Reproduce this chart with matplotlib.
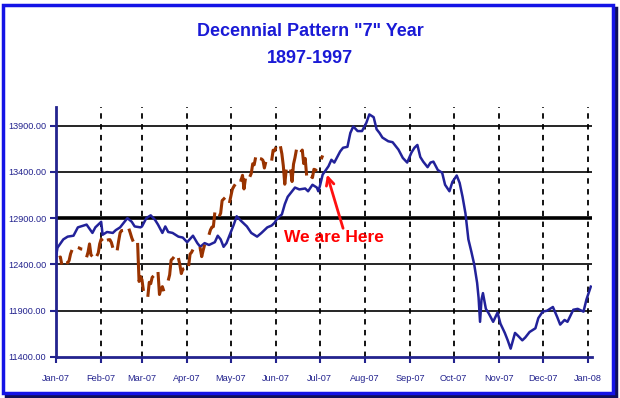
import matplotlib
matplotlib.use("Agg")
import matplotlib.pyplot as plt
import matplotlib.dates as mdates
from matplotlib import font_manager
import pandas as pd
import numpy as np
from matplotlib.patches import Rectangle

# ---------------- data ----------------
pattern_dates = [
    "2007-01-01", "2007-01-02", "2007-01-06", "2007-01-09", "2007-01-13", "2007-01-16", "2007-01-20",
    "2007-01-22", "2007-01-26", "2007-01-28", "2007-02-01", "2007-02-02", "2007-02-05", "2007-02-09",
    "2007-02-11", "2007-02-14", "2007-02-17", "2007-02-19", "2007-02-22", "2007-02-24", "2007-02-28",
    "2007-03-01", "2007-03-04", "2007-03-07", "2007-03-10", "2007-03-12", "2007-03-15", "2007-03-17",
    "2007-03-19", "2007-03-22", "2007-03-26", "2007-03-29", "2007-04-01", "2007-04-05", "2007-04-08",
    "2007-04-10", "2007-04-13", "2007-04-16", "2007-04-20", "2007-04-22", "2007-04-24", "2007-04-26",
    "2007-04-28", "2007-05-01", "2007-05-03", "2007-05-05", "2007-05-08", "2007-05-12", "2007-05-15",
    "2007-05-19", "2007-05-22", "2007-05-26", "2007-05-29", "2007-05-31", "2007-06-02", "2007-06-05",
    "2007-06-07", "2007-06-09", "2007-06-12", "2007-06-14", "2007-06-17", "2007-06-21", "2007-06-23",
    "2007-06-26", "2007-06-29", "2007-06-30", "2007-07-01", "2007-07-03", "2007-07-07", "2007-07-09",
    "2007-07-11", "2007-07-15", "2007-07-17", "2007-07-20", "2007-07-22", "2007-07-24", "2007-07-27",
    "2007-07-30", "2007-08-02", "2007-08-04", "2007-08-07", "2007-08-09", "2007-08-11", "2007-08-13",
    "2007-08-17", "2007-08-20", "2007-08-24", "2007-08-27", "2007-08-30", "2007-09-02", "2007-09-04",
    "2007-09-06", "2007-09-08", "2007-09-10", "2007-09-13", "2007-09-15", "2007-09-17", "2007-09-20",
    "2007-09-23", "2007-09-25", "2007-09-28", "2007-09-30", "2007-10-03", "2007-10-05", "2007-10-07",
    "2007-10-09", "2007-10-11", "2007-10-13", "2007-10-15", "2007-10-17", "2007-10-18", "2007-10-19",
    "2007-10-20", "2007-10-21", "2007-10-23", "2007-10-25", "2007-10-28", "2007-10-31", "2007-11-02",
    "2007-11-05", "2007-11-07", "2007-11-09", "2007-11-12", "2007-11-14", "2007-11-17", "2007-11-19",
    "2007-11-22", "2007-11-26", "2007-11-28", "2007-12-01", "2007-12-04", "2007-12-08", "2007-12-11",
    "2007-12-13", "2007-12-16", "2007-12-18", "2007-12-22", "2007-12-25", "2007-12-29", "2007-12-31",
    "2008-01-03",
]
pattern_values = [
    12480, 12580, 12670, 12700, 12710, 12800, 12820,
    12830, 12740, 12800, 12860, 12720, 12750, 12740,
    12770, 12800, 12860, 12900, 12860, 12810, 12800,
    12810, 12900, 12930, 12880, 12830, 12740, 12810,
    12750, 12740, 12700, 12690, 12640, 12710, 12630,
    12590, 12630, 12610, 12640, 12710, 12670, 12590,
    12630, 12750, 12830, 12920, 12870, 12810, 12740,
    12700, 12740, 12800, 12820, 12850, 12900, 12940,
    13050, 13130, 13190, 13230, 13210, 13220, 13190,
    13260, 13230, 13190, 13240, 13370, 13460, 13530,
    13500, 13620, 13660, 13670, 13820, 13890, 13840,
    13840, 13930, 14020, 13990, 13860, 13820, 13770,
    13730, 13720, 13640, 13550, 13500, 13610, 13660,
    13690, 13560, 13510, 13450, 13500, 13510, 13420,
    13390, 13260, 13190, 13290, 13360, 13280, 13130,
    12950, 12670, 12540, 12400, 12200, 12040, 11780,
    12020, 12090, 11920, 11870, 11780, 11880, 11760,
    11660, 11580, 11490, 11660, 11630, 11580, 11610,
    11670, 11710, 11820, 11890, 11900, 11940, 11830,
    11750, 11800, 11780, 11910, 11920, 11890, 12020,
    12160,
]

actual_dates = [
    "2007-01-03", "2007-01-04", "2007-01-05", "2007-01-08", "2007-01-09", "2007-01-10", "2007-01-11",
    "2007-01-12", "2007-01-16", "2007-01-17", "2007-01-18", "2007-01-19", "2007-01-22", "2007-01-23",
    "2007-01-24", "2007-01-25", "2007-01-26", "2007-01-29", "2007-01-30", "2007-01-31", "2007-02-01",
    "2007-02-02", "2007-02-05", "2007-02-06", "2007-02-07", "2007-02-08", "2007-02-09", "2007-02-12",
    "2007-02-13", "2007-02-14", "2007-02-15", "2007-02-16", "2007-02-20", "2007-02-21", "2007-02-22",
    "2007-02-23", "2007-02-26", "2007-02-27", "2007-02-28", "2007-03-01", "2007-03-02", "2007-03-05",
    "2007-03-06", "2007-03-07", "2007-03-08", "2007-03-09", "2007-03-12", "2007-03-13", "2007-03-14",
    "2007-03-15", "2007-03-16", "2007-03-19", "2007-03-20", "2007-03-21", "2007-03-22", "2007-03-23",
    "2007-03-26", "2007-03-27", "2007-03-28", "2007-03-29", "2007-03-30", "2007-04-02", "2007-04-03",
    "2007-04-04", "2007-04-05", "2007-04-09", "2007-04-10", "2007-04-11", "2007-04-12", "2007-04-13",
    "2007-04-16", "2007-04-17", "2007-04-18", "2007-04-19", "2007-04-20", "2007-04-23", "2007-04-24",
    "2007-04-25", "2007-04-26", "2007-04-27", "2007-04-30", "2007-05-01", "2007-05-02", "2007-05-03",
    "2007-05-04", "2007-05-07", "2007-05-08", "2007-05-09", "2007-05-10", "2007-05-11", "2007-05-14",
    "2007-05-15", "2007-05-16", "2007-05-17", "2007-05-18", "2007-05-21", "2007-05-22", "2007-05-23",
    "2007-05-24", "2007-05-25", "2007-05-29", "2007-05-30", "2007-05-31", "2007-06-01", "2007-06-04",
    "2007-06-05", "2007-06-06", "2007-06-07", "2007-06-08", "2007-06-11", "2007-06-12", "2007-06-13",
    "2007-06-14", "2007-06-15", "2007-06-18", "2007-06-19", "2007-06-20", "2007-06-21", "2007-06-22",
    "2007-06-25", "2007-06-26", "2007-06-27", "2007-06-28", "2007-06-29", "2007-07-02", "2007-07-03",
]
actual_values = [
    12474, 12480, 12398, 12423, 12416, 12442, 12514,
    12556, 12582, 12577, 12567, 12565, 12477, 12533,
    12621, 12502, 12487, 12490, 12523, 12622, 12673,
    12653, 12661, 12666, 12667, 12637, 12580, 12552,
    12654, 12741, 12765, 12767, 12786, 12738, 12686,
    12647, 12632, 12216, 12268, 12234, 12114, 12050,
    12207, 12192, 12260, 12276, 12318, 12075, 12133,
    12160, 12110, 12226, 12288, 12447, 12461, 12481,
    12469, 12397, 12301, 12349, 12354, 12382, 12511,
    12530, 12560, 12569, 12573, 12484, 12553, 12612,
    12720, 12773, 12803, 12808, 12961, 12919, 12953,
    13089, 13105, 13121, 13063, 13136, 13211, 13241,
    13265, 13313, 13309, 13362, 13215, 13327, 13346,
    13383, 13487, 13476, 13556, 13542, 13539, 13525,
    13441, 13507, 13521, 13633, 13627, 13668, 13676,
    13595, 13465, 13266, 13424, 13425, 13295, 13483,
    13553, 13639, 13612, 13635, 13489, 13545, 13360,
    13352, 13337, 13427, 13422, 13408, 13535, 13577,
]

y_tick_values = [11400, 11900, 12400, 12900, 13400, 13900]
title_text = 'Decennial Pattern "7" Year\n1897-1997'
note_text = "We are Here"

# ---------------- styling ----------------
W, H = 620, 398
available = {f.name for f in font_manager.fontManager.ttflist}
NARROW = [f for f in ["Liberation Sans Narrow", "DejaVu Sans Condensed", "Liberation Sans"] if f in available]
narrow_ok = NARROW[0] != "Liberation Sans"
navy = "#23238e"
blue_line = "#22229a"
brown_line = "#993300"

fig = plt.figure(figsize=(W / 100, H / 100), dpi=100)
fig.patch.set_facecolor("white")

def px_rect(x0, y0, x1, y1, **kw):
    return Rectangle((x0 / W, 1 - y1 / H), (x1 - x0) / W, (y1 - y0) / H,
                     transform=fig.transFigure, **kw)

# shadow + frame
fig.patches.append(px_rect(6, 8, 616, 396, facecolor="none", edgecolor="#10105a", lw=2.5, zorder=-2))
fig.patches.append(px_rect(3, 5, 613, 393, facecolor="white", edgecolor="#1414e6", lw=2.5, zorder=-1))

ax = fig.add_axes([56 / W, 1 - 357 / H, 536 / W, 250 / H])
ax.set_zorder(2)
ax.set_facecolor("none")

pd_pattern = pd.to_datetime(pattern_dates)
pd_actual = pd.to_datetime(actual_dates)

# break the actual line where trading days are not consecutive
xs, ys = [], []
prev = None
for d, v in zip(pd_actual, actual_values):
    if prev is not None and (d - prev).days > 1:
        xs.append(prev + pd.Timedelta(hours=12))
        ys.append(np.nan)
    xs.append(d)
    ys.append(v)
    prev = d

x0 = pd.Timestamp("2007-01-01")
x1 = pd.Timestamp("2008-01-03 20:00")
ax.set_xlim(x0, x1)
ax.set_ylim(11400, 14100)

# grid
for yv in y_tick_values[1:]:
    ax.axhline(yv, color="black", lw=2.6 if yv == 12900 else 1.2, zorder=1)
months = pd.date_range("2007-02-01", "2008-01-01", freq="MS")
for m in months:
    ax.axvline(m, color="black", lw=1.3, ls=(0, (3, 3)), zorder=1)

ax.plot(pd_pattern, pattern_values, color=blue_line, lw=1.8, zorder=3)
ax.plot(xs, ys, color=brown_line, lw=2.2, zorder=4, solid_capstyle="butt")

# axes styling
for s in ("top", "right"):
    ax.spines[s].set_visible(False)
for s in ("left", "bottom"):
    ax.spines[s].set_color(navy)
    ax.spines[s].set_linewidth(2.0)

lab_size = 7.5 if narrow_ok else 6.6
ax.set_yticks(y_tick_values)
ax.set_yticklabels([f"{v:.2f}" for v in y_tick_values])
ax.set_xticks(pd.date_range("2007-01-01", "2008-01-01", freq="MS"))
ax.xaxis.set_major_formatter(mdates.DateFormatter("%b-%y"))
ax.tick_params(axis="both", colors=navy, direction="out", length=4, width=1.5)
ax.tick_params(axis="y", pad=3, labelsize=lab_size)
ax.tick_params(axis="x", pad=8, labelsize=lab_size)
for lab in ax.get_xticklabels() + ax.get_yticklabels():
    lab.set_family(NARROW)
    lab.set_color(navy)

# title
fig.text(310 / W, 1 - 45 / H, title_text, ha="center", va="center", color="#1a1ad6",
         fontsize=15.5 if narrow_ok else 13, fontweight="bold", family=NARROW, linespacing=1.7)

# annotation
ax.annotate("", xy=(pd.Timestamp("2007-07-06"), 13370), xytext=(pd.Timestamp("2007-07-17"), 12790),
            arrowprops=dict(arrowstyle="->", color="#ff1010", lw=2.0, mutation_scale=14,
                            shrinkA=0, shrinkB=0), zorder=6)
ax.text(pd.Timestamp("2007-07-11"), 12690, note_text, ha="center", va="center", color="#ff0000",
        fontsize=14 if narrow_ok else 12.5, fontweight="bold", family=NARROW, zorder=6)

fig.savefig("out.png", dpi=100, facecolor="white")
